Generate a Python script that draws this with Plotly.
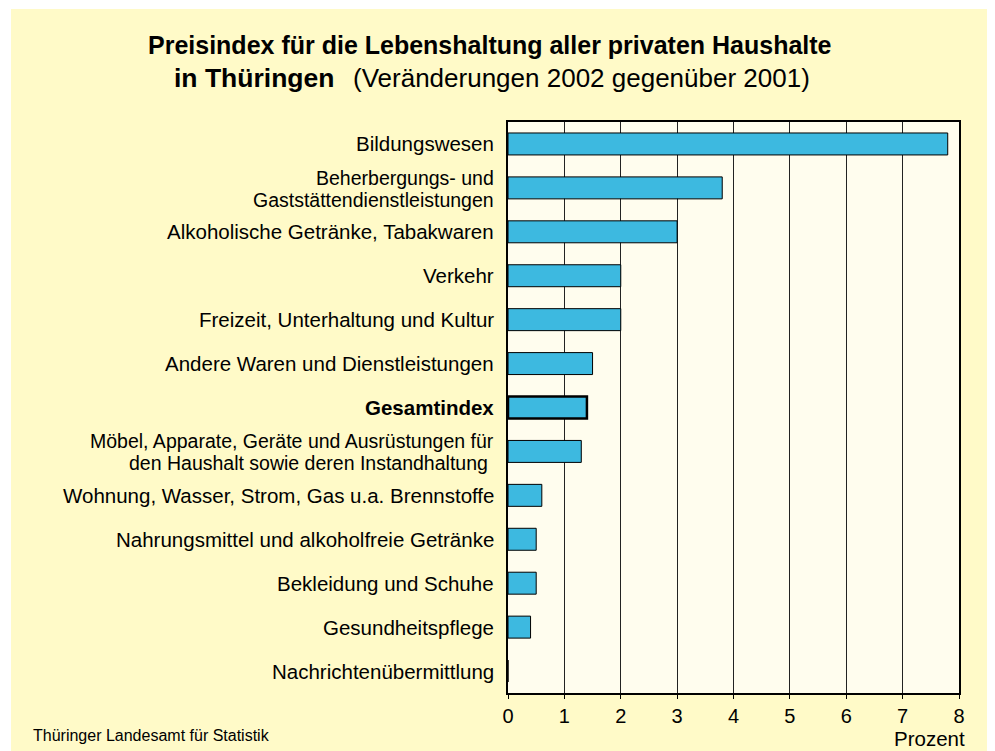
import plotly.graph_objects as go

categories = [
    "Bildungswesen",
    "Beherbergungs- und|Gaststättendienstleistungen",
    "Alkoholische Getränke, Tabakwaren",
    "Verkehr",
    "Freizeit, Unterhaltung und Kultur",
    "Andere Waren und Dienstleistungen",
    "Gesamtindex",
    "Möbel, Apparate, Geräte und Ausrüstungen für|den Haushalt sowie deren Instandhaltung",
    "Wohnung, Wasser, Strom, Gas u.a. Brennstoffe",
    "Nahrungsmittel und alkoholfreie Getränke",
    "Bekleidung und Schuhe",
    "Gesundheitspflege",
    "Nachrichtenübermittlung",
]
values = [7.8, 3.8, 3.0, 2.0, 2.0, 1.5, 1.4, 1.3, 0.6, 0.5, 0.5, 0.4, 0.0]
highlight = "Gesamtindex"
x_ticks = [0, 1, 2, 3, 4, 5, 6, 7, 8]

# page has an 8px body margin; figure sized so it fills the window exactly
OFF = 8
W, H = 995 - OFF, 751 - OFF
L, R, T, B = 508 - OFF, 995 - 959, 122 - OFF, 751 - 693
pw, ph = W - L - R, H - T - B

def px_x(p):
    return (p - OFF - L) / pw

def px_y(p):
    return (H - B - (p - OFF)) / ph

FONT = "Liberation Sans, Arial, sans-serif"
line_widths = [2.5 if c == highlight else 1 for c in categories]

fig = go.Figure(go.Bar(
    x=values, y=categories, orientation="h", width=0.5,
    marker=dict(color="#3DB9E0", line=dict(color="#000000", width=line_widths)),
    hovertemplate="%{x}<extra></extra>",
))

annotations = []
for c in categories:
    lines = c.split("|")
    n = len(lines)
    for i, ln in enumerate(lines):
        shift = 0 if n == 1 else 10 - 22 * i
        txt = f"<b>{ln}</b>" if c == highlight else ln
        annotations.append(dict(
            xref="paper", yref="y", x=0, y=c, xanchor="right", yanchor="middle",
            xshift=-13 - (6 if (n > 1 and i == 1 and c.startswith("Möbel")) else 0),
            yshift=shift, text=txt, showarrow=False, borderpad=0,
            font=dict(size=20.5 if n == 1 else 19.5, family=FONT, color="#000"),
        ))

annotations += [
    dict(xref="paper", yref="paper", x=px_x(490), y=px_y(45),
         text="<b>Preisindex für die Lebenshaltung aller privaten Haushalte</b>",
         showarrow=False, font=dict(size=25), xanchor="center", yanchor="middle"),
    dict(xref="paper", yref="paper", x=px_x(336), y=px_y(78),
         text="<b>in Thüringen</b>",
         showarrow=False, font=dict(size=26.5), xanchor="right", yanchor="middle"),
    dict(xref="paper", yref="paper", x=px_x(351), y=px_y(78),
         text="(Veränderungen 2002 gegenüber 2001)",
         showarrow=False, font=dict(size=26), xanchor="left", yanchor="middle"),
    dict(xref="paper", yref="paper", x=px_x(966), y=px_y(738),
         text="Prozent", showarrow=False, font=dict(size=20.5), borderpad=0,
         xanchor="right", yanchor="middle"),
    dict(xref="paper", yref="paper", x=px_x(31), y=px_y(736),
         text="Thüringer Landesamt für Statistik", showarrow=False,
         font=dict(size=16), xanchor="left", yanchor="middle"),
]

fig.update_layout(
    width=W, height=H,
    margin=dict(l=L, r=R, t=T, b=B),
    paper_bgcolor="#FFFFFF",
    plot_bgcolor="rgba(0,0,0,0)",
    showlegend=False,
    font=dict(family=FONT, size=16, color="#000"),
    xaxis=dict(
        range=[0, 8], tickvals=x_ticks, ticktext=[str(v) for v in x_ticks],
        showgrid=True, gridcolor="#222222", gridwidth=1,
        showline=True, linecolor="#000", linewidth=1.5, mirror=True,
        ticks="outside", ticklen=4, tickcolor="#000",
        tickfont=dict(size=20), zeroline=False, fixedrange=True,
    ),
    yaxis=dict(
        categoryorder="array", categoryarray=categories, autorange="reversed",
        showline=True, linecolor="#000", linewidth=1.5, mirror=True,
        showticklabels=False, ticks="", showgrid=False, fixedrange=True,
    ),
    shapes=[
        dict(type="rect", xref="paper", yref="paper", layer="below",
             x0=px_x(11), x1=px_x(995), y0=px_y(9), y1=px_y(751),
             fillcolor="#FFFAC8", line=dict(width=0)),
        dict(type="rect", xref="paper", yref="paper", layer="below",
             x0=0, x1=1, y0=0, y1=1,
             fillcolor="#FFFDEE", line=dict(width=0)),
    ],
    annotations=annotations,
)

fig.write_html("out.html")
